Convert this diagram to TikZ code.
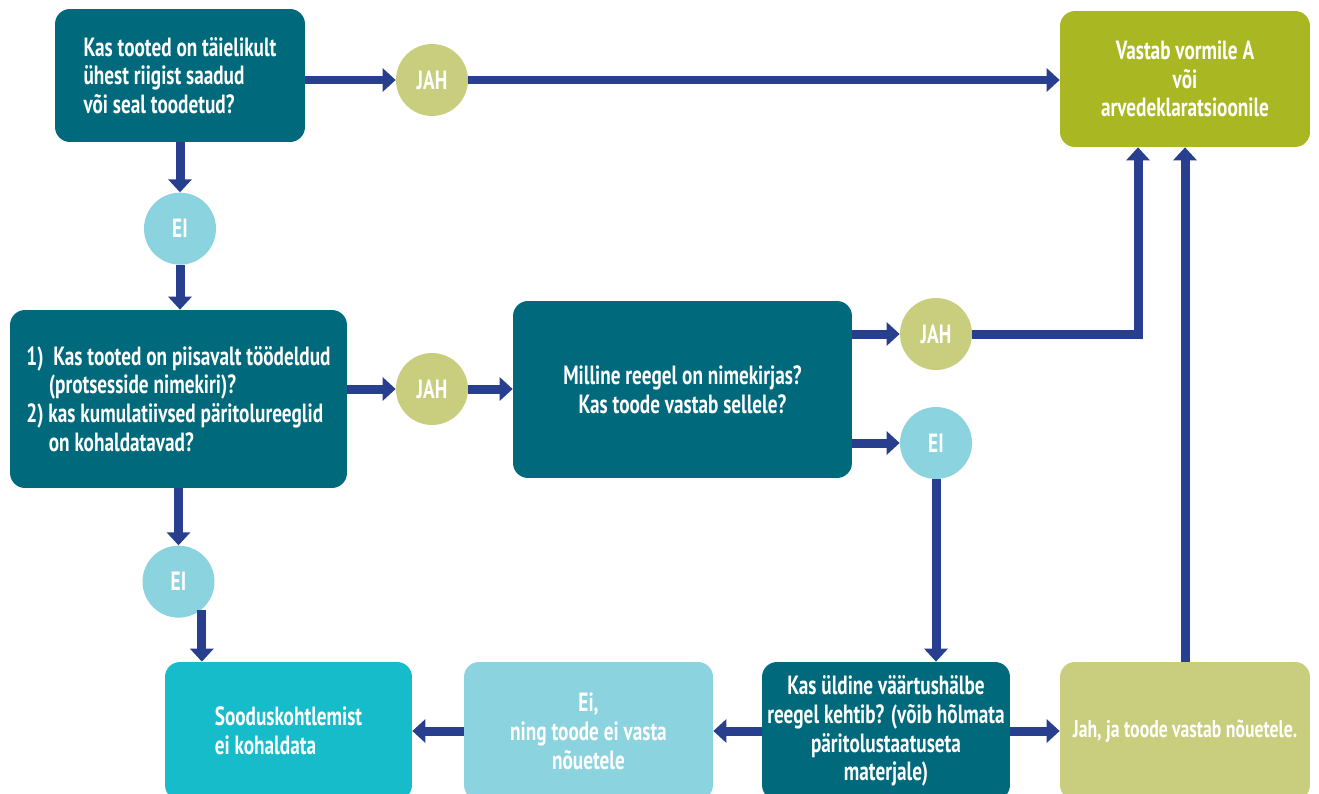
\documentclass[tikz,border=0pt]{standalone}
\usepackage{fontspec}
\setmainfont{PT Sans}[FakeStretch=0.73]
\usetikzlibrary{arrows.meta}
\usetikzlibrary{positioning}
\definecolor{deepteal}{HTML}{006A7C}
\definecolor{darkolive}{HTML}{A8B722}
\definecolor{paleolive}{HTML}{C8CE7D}
\definecolor{paleblue}{HTML}{8BD3DF}
\definecolor{brightcyan}{HTML}{17BCCB}
\definecolor{arrowblue}{HTML}{283E8E}
\tikzset {
  flow path/.style = {
    draw = arrowblue,
    line width = 0.18cm
  },
  % path style with a triangle tip at the end
  arr/.style = {
    flow path,
    -{Triangle[width = 0.46cm, length = 0.26cm]}
  }
}
\tikzset {
  flow node/.style = {
    rectangle,
    rounded corners = 0.3cm,
    inner sep = 0,
    text = white,
    font = \bfseries\fontsize{15}{16.4}\selectfont,
    align = center
  },
  % question box
  ask/.style = {
    flow node,
    fill = deepteal
  },
  % result boxes
  formbox/.style = {
    flow node,
    fill = darkolive
  },
  metbox/.style = {
    flow node,
    fill = paleolive,
    font = \bfseries\fontsize{13.8}{16.4}\selectfont
  },
  failbox/.style = {
    flow node,
    fill = paleblue
  },
  nopref/.style = {
    flow node,
    fill = brightcyan
  },
  % answer circles
  yes/.style = {
    circle,
    fill = paleolive,
    minimum size = 1.44cm,
    inner sep = 0,
    text = white,
    font = \bfseries\fontsize{15}{16.4}\selectfont
  },
  no/.style = {
    yes,
    fill = paleblue
  }
}
\begin{document}
\begin{tikzpicture}[x = 0.02cm, y = -0.02cm]
    \path[use as bounding box] (0,0) rectangle (1319,794);
    \clip (0,0) rectangle (1319,794);

    \node[ask, minimum width = 5cm, minimum height = 2.66cm, align = left] (whole) at (180,75.5)
      {Kas tooted on täielikult\\ ühest riigist saadud\\ või seal toodetud?};
    \node[formbox, minimum width = 5cm, minimum height = 2.72cm] (forma) at (1185,79)
      {Vastab vormile A\\ või\\ arvedeklaratsioonile};
    \node[yes] (jah1) at (432,80) {JAH};
    \node[no] (ei1) [below=1cm of whole] {EI};

    \node[ask, minimum width = 6.74cm, minimum height = 3.56cm, align = left] (cumul) at (178.5,399)
      {1)\ \ Kas tooted on piisavalt töödeldud\\
       \hspace*{0.85em}(protsesside nimekiri)?\\
       2) kas kumulatiivsed päritolureeglid\\
       \hspace*{0.85em}on kohaldatavad?};
    \node[yes] (jah2) at (432,389) {JAH};
    \node[ask, minimum width = 6.78cm, minimum height = 3.54cm] (rule) at (682.5,389.5)
      {Milline reegel on nimekirjas?\\ Kas toode vastab sellele?};
    \node[yes] (jah3) at (936,334) {JAH};
    \node[no] (ei3) at (936,443) {EI};
    \node[no] (ei2) [below=1.14cm of cumul] {EI};

    \node[nopref, minimum width = 4.94cm, minimum height = 2.76cm, align = left] (refuse) at (288.5,731)
      {Sooduskohtlemist\\ ei kohaldata};
    \node[failbox, minimum width = 4.98cm, minimum height = 2.76cm] (fail) at (588.5,731)
      {Ei,\\ ning toode ei vasta\\ nõuetele};
    \node[ask, minimum width = 4.96cm, minimum height = 2.76cm] (tolerance) at (886,731)
      {Kas üldine väärtushälbe\\ reegel kehtib? (võib hõlmata\\ päritolustaatuseta\\ materjale)};
    \node[metbox, minimum width = 5cm, minimum height = 2.76cm] (met) at (1185,731)
      {Jah, ja toode vastab nõuetele.};

    \draw[arr] (whole.east |- jah1) -- (jah1);
    \draw[arr] (jah1) -- (forma.west |- jah1);
    \draw[arr] (whole) -- (ei1);
    \draw[arr] (ei1) -- (cumul.north -| ei1);
    \draw[arr] (cumul.east |- jah2) -- (jah2);
    \draw[arr] (jah2) -- (rule.west |- jah2);
    \draw[arr] (rule.east |- jah3) -- (jah3);
    \draw[arr] (jah3) -| ([xshift=-0.94cm]forma.south);
    \draw[arr] (rule.east |- ei3) -- (ei3);
    \draw[arr] (ei3) -- (tolerance.north -| ei3);
    \draw[arr] (cumul.south -| ei2) -- (ei2);
    \draw[arr] (ei2.-50) -- (ei2.-50 |- refuse.north);
    \draw[arr] (tolerance) -- (fail);
    \draw[arr] (fail) -- (refuse);
    \draw[arr] (tolerance) -- (met);
    \draw[arr] (met) -- (forma);
  \end{tikzpicture}
\end{document}
